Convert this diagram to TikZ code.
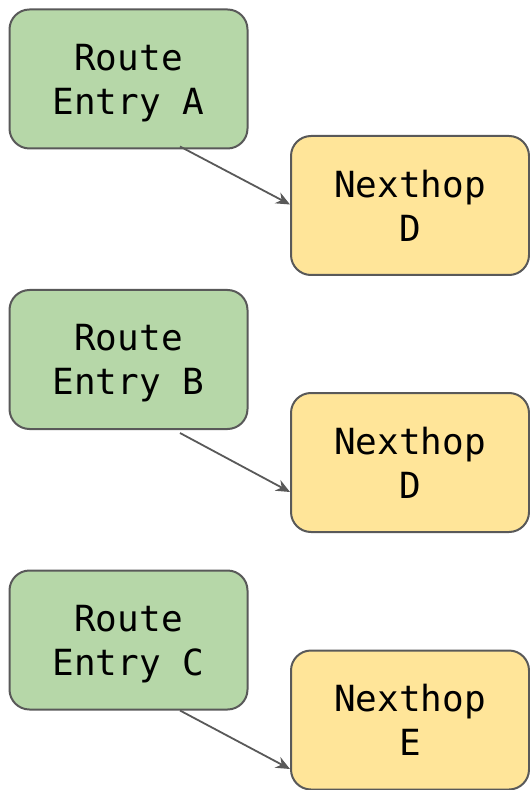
\documentclass[tikz,border=0pt]{standalone}
\usepackage{fontspec}
\setmonofont{DejaVu Sans Mono}
\usetikzlibrary{arrows.meta}
\definecolor{routegreen}{HTML}{B6D7A8}
\definecolor{hopyellow}{HTML}{FFE599}
\definecolor{edgegray}{HTML}{595959}

\def\xleft{128.5}
\def\xright{410}

\begin{document}
\begin{tikzpicture}[x=0.5pt,y=-0.5pt,
	box/.style={draw=edgegray, line width=1pt, rounded corners=10pt,
		minimum width=119pt, minimum height=69.5pt, align=center,
		font=\ttfamily\fontsize{18}{22}\selectfont, inner sep=0pt, text depth=0pt},
	route/.style={box, fill=routegreen},
	hop/.style={box, fill=hopyellow},
	link/.style={-{Stealth[length=7pt,width=6pt]}, draw=edgegray, line width=0.9pt}]

	\useasboundingbox (0,0) rectangle (529,790);

	%%% Route entries
	\node[route] (entry_a) at (\xleft, 79) {Route\\Entry A};
	\node[route] (entry_b) at (\xleft, 359.5) {Route\\Entry B};
	\node[route] (entry_c) at (\xleft, 640) {Route\\Entry C};

	%%% Nexthops
	\node[hop] (hop_d1) at (\xright, 205.5) {Nexthop\\D};
	\node[hop] (hop_d2) at (\xright, 462.5) {Nexthop\\D};
	\node[hop] (hop_e) at (\xright, 720) {Nexthop\\E};

	%%% Links
	\coordinate (out_a) at ([xshift=25.75pt, yshift=1.5pt]entry_a.south);
	\coordinate (out_b) at ([xshift=25.75pt, yshift=-1.5pt]entry_b.south);
	\coordinate (out_c) at ([xshift=25.75pt]entry_c.south);
	\coordinate (in_d1) at ([yshift=0.5pt]hop_d1.west);
	\coordinate (in_d2) at ([yshift=-14.75pt]hop_d2.west);
	\coordinate (in_e) at ([yshift=-24.5pt]hop_e.west);
	\draw[link] (out_a) -- (in_d1);
	\draw[link] (out_b) -- (in_d2);
	\draw[link] (out_c) -- (in_e);

\end{tikzpicture}
\end{document}
